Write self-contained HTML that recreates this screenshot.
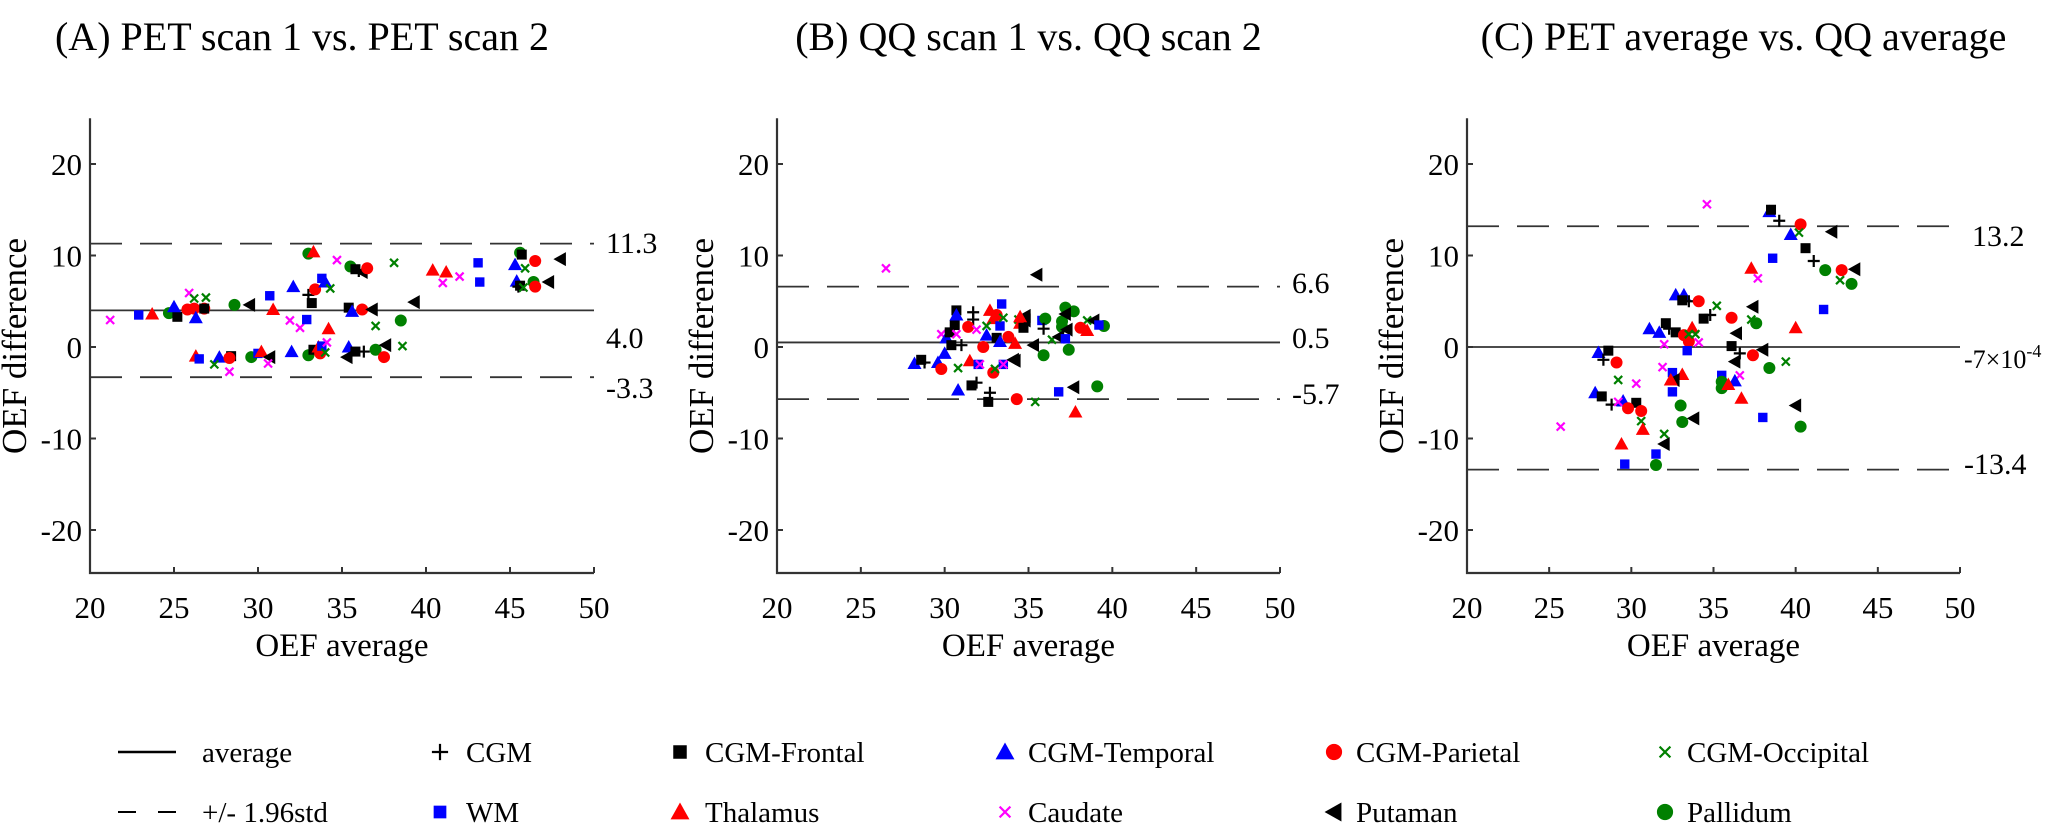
<!DOCTYPE html>
<html><head><meta charset="utf-8">
<style>
html,body{margin:0;padding:0;background:#fff;}
svg{display:block;}
svg text{font-family:"Liberation Serif","DejaVu Serif",serif;}
</style></head>
<body>
<svg id="fig" width="2048" height="833" viewBox="0 0 2048 833" xmlns="http://www.w3.org/2000/svg" font-family="Liberation Serif, serif">
<g id="panels"></g>
<g id="legend"></g>
</svg>
<script>
// ---- data (series code, OEF average, OEF difference) ----
// codes: p=CGM f=CGM-Frontal t=CGM-Temporal r=CGM-Parietal o=CGM-Occipital w=WM h=Thalamus c=Caudate u=Putaman g=Pallidum
const panelAPoints = [
['c',21.2,2.95],['w',22.9,3.5],['h',23.7,3.6],['g',24.7,3.7],['f',25.2,3.3],['t',25.0,4.4],
['r',25.8,4.1],['r',26.2,4.2],['r',26.8,4.2],['t',26.3,3.2],['f',26.8,4.2],['c',25.9,5.9],
['o',26.2,5.3],['o',26.9,5.4],['g',28.6,4.6],['u',29.5,4.6],['w',30.7,5.6],['h',30.9,4.1],
['t',32.1,6.6],['p',33.0,5.7],['f',33.2,4.8],['c',31.9,2.9],['c',32.5,2.1],['w',32.9,3.0],
['g',33.0,10.2],['h',33.3,10.4],['r',33.4,6.3],['w',33.8,7.5],['t',34.0,7.1],['o',34.3,6.4],
['c',34.7,9.5],['h',34.2,2.0],['g',35.5,8.8],['f',35.8,8.5],['p',36.0,8.3],['u',36.2,8.2],['r',36.5,8.6],
['f',35.4,4.3],['t',35.6,3.9],['r',36.2,4.1],['u',36.8,4.1],['o',37.0,2.3],['g',38.5,2.9],
['u',39.3,4.9],['o',38.1,9.2],['h',40.4,8.4],['h',41.2,8.2],['c',41.0,7.0],['c',42.0,7.7],
['w',43.1,9.2],['w',43.2,7.1],
['h',26.3,-1.0],['w',26.5,-1.3],['t',27.7,-1.1],['o',27.4,-1.9],['f',28.4,-1.0],['r',28.3,-1.2],
['c',28.3,-2.7],['g',29.6,-1.1],['w',30.0,-0.7],['h',30.2,-0.5],['u',30.7,-1.1],['c',30.6,-1.8],
['t',32.0,-0.5],['g',33.0,-0.9],['f',33.3,-0.3],['h',33.6,0.0],['r',33.7,-0.7],['w',33.8,0.1],
['c',34.1,0.5],['o',34.0,-0.6],['t',35.4,0.0],['u',35.3,-1.1],['f',35.8,-0.5],['p',36.3,-0.5],
['g',37.0,-0.3],['u',37.6,0.2],['r',37.5,-1.1],['o',38.6,0.1],
['g',45.6,10.3],['f',45.7,10.1],['t',45.3,9.0],['r',46.5,9.4],['u',48.0,9.6],['o',45.9,8.6],
['t',45.4,7.2],['p',45.5,6.6],['f',45.6,6.7],['o',45.8,6.5],['g',46.4,7.1],['r',46.5,6.6],['u',47.3,7.1]
];
const panelBPoints = [
['c',26.5,8.6],['t',28.2,-1.8],['f',28.6,-1.4],['p',28.8,-1.7],['t',29.6,-1.7],['r',29.8,-2.4],
['t',30.0,-0.7],['c',29.8,1.4],['t',30.1,1.0],['f',30.4,0.2],['p',31.0,0.2],['f',30.3,1.6],
['f',30.6,2.4],['f',30.7,4.0],['t',30.7,3.5],['c',30.7,1.4],['p',31.7,3.8],['p',31.7,3.0],
['r',31.4,2.2],['o',30.8,-2.3],['r',32.3,0.0],['c',31.9,1.9],['t',30.8,-4.7],['f',31.6,-4.2],
['p',31.9,-3.9],['p',32.7,-5.0],['f',32.6,-6.0],['h',31.5,-1.5],['w',32.0,-1.9],['c',32.1,-1.9],
['r',32.9,-2.8],['o',33.0,-2.4],['w',33.5,-1.9],['c',33.5,-1.9],['h',32.7,4.0],['h',32.9,3.1],
['r',33.1,3.5],['t',32.5,1.3],['f',33.1,1.0],['w',33.3,2.3],['w',33.4,4.7],['o',33.5,3.2],
['o',32.5,2.3],['t',33.3,0.6],['r',33.8,1.1],['h',34.2,0.4],['u',34.1,-1.4],['o',34.4,3.0],
['u',34.8,2.9],['h',34.5,2.6],['f',34.7,2.1],['r',34.3,-5.7],['u',35.5,7.9],['w',35.8,2.9],
['g',36.0,3.1],['p',35.9,2.0],['g',37.2,4.3],['g',37.7,3.9],['g',37.0,2.2],['g',37.0,2.8],
['u',37.2,3.6],['u',37.3,1.9],['o',36.4,0.8],['u',36.8,1.1],['w',37.2,0.9],['u',35.3,0.2],
['g',35.9,-0.9],['g',37.4,-0.3],['u',34.2,-1.5],['o',38.5,2.9],['u',38.9,2.9],['r',38.1,2.1],
['h',38.5,1.8],['g',39.5,2.3],['w',39.2,2.4],['w',36.8,-4.9],['u',37.7,-4.4],['g',39.1,-4.3],
['o',35.4,-6.0],['h',37.8,-7.1],['u',34.8,3.4],['h',34.5,3.3]
];
const panelCPoints = [
['c',34.6,15.6],['t',38.4,14.8],['f',38.5,15.0],['p',39.0,13.8],['r',40.3,13.4],['o',40.2,12.5],
['t',39.7,12.3],['u',42.2,12.6],['f',40.6,10.8],['p',41.1,9.4],['g',41.8,8.4],['r',42.8,8.4],
['u',43.6,8.5],['o',42.7,7.3],['g',43.4,6.9],['w',38.6,9.7],['h',37.3,8.6],['c',37.7,7.5],
['w',41.7,4.1],['h',40.0,2.1],['u',37.4,4.4],['r',36.1,3.2],['o',37.3,3.0],['g',37.6,2.6],
['t',32.7,5.7],['t',33.2,5.7],['f',33.1,5.1],['p',33.5,5.0],['r',34.1,5.0],['o',35.2,4.5],
['f',34.4,3.1],['p',34.8,3.5],['t',31.1,2.0],['t',31.7,1.6],['f',32.1,2.6],['p',32.3,2.0],
['f',32.7,1.6],['h',33.7,2.1],['r',33.2,1.3],['r',33.5,0.6],['o',33.5,1.4],['o',33.9,1.4],
['c',34.1,0.5],['c',32.0,0.3],['w',33.4,-0.4],['u',36.4,1.5],['f',36.1,0.1],['p',36.6,-0.7],
['r',37.4,-0.9],['u',38.0,-0.3],['u',36.3,-1.6],['o',39.4,-1.6],['g',38.4,-2.3],['t',28.0,-0.6],
['f',28.6,-0.4],['p',28.3,-1.4],['r',29.1,-1.7],['c',31.9,-2.2],['w',32.5,-2.8],['h',33.1,-3.0],
['u',32.6,-3.6],['h',32.4,-3.6],['w',32.5,-4.9],['o',29.2,-3.6],['c',30.3,-4.0],['w',35.5,-3.1],
['c',36.6,-3.1],['t',36.3,-3.7],['g',35.5,-3.8],['g',35.5,-4.5],['h',35.9,-4.1],['h',36.7,-5.6],
['t',27.8,-5.0],['f',28.2,-5.4],['p',28.8,-6.3],['t',29.5,-5.9],['c',29.2,-6.0],['f',30.3,-6.1],
['r',29.8,-6.7],['r',30.6,-7.0],['o',30.6,-8.1],['h',30.7,-9.0],['h',29.4,-10.6],['w',29.6,-12.8],
['g',31.5,-12.9],['w',31.5,-11.7],['u',32.0,-10.6],['o',32.0,-9.5],['g',33.0,-6.4],['g',33.1,-8.2],
['u',33.8,-7.8],['w',38.0,-7.7],['u',40.0,-6.4],['g',40.3,-8.7],['c',25.7,-8.7]
];
const panelTitles = ['(A) PET scan 1 vs. PET scan 2','(B) QQ scan 1 vs. QQ scan 2','(C) PET average vs. QQ average'];
const meanValues = [4.0, 0.5, 0.0007];
const upperValues = [11.3, 6.6, 13.2];
const lowerValues = [-3.3, -5.7, -13.4];
const meanLabels = ['4.0','0.5','-7×10'];
const upperLabels = ['11.3','6.6','13.2'];
const lowerLabels = ['-3.3','-5.7','-13.4'];
const xTicks = [20,25,30,35,40,45,50];
const yTicks = [-20,-10,0,10,20];
const legendNames = ['CGM','WM','CGM-Frontal','Thalamus','CGM-Temporal','Caudate','CGM-Parietal','Putaman','CGM-Occipital','Pallidum'];
const legendCodes = ['p','w','f','h','t','c','r','u','o','g'];

const NS='http://www.w3.org/2000/svg';
const FONT='"Liberation Serif","DejaVu Serif",serif';
function mk(tag,attrs,parent){const e=document.createElementNS(NS,tag);for(const k in attrs)e.setAttribute(k,attrs[k]);if(tag==='text'){e.setAttribute('font-family',FONT);e.style.fontFamily=FONT;}if(parent)parent.appendChild(e);return e;}

const layouts=[{x0:90,x1:594},{x0:777,x1:1280},{x0:1467,x1:1960}];
const yZero=347, yPer=9.15, yMax=25, yMin=-24.7;

function marker(code,cx,cy,parent,scale){
  scale=scale||1;let e;
  const s=scale;
  if(code==='p'){e=mk('path',{d:`M${cx-6*s},${cy}H${cx+6*s}M${cx},${cy-6*s}V${cy+6*s}`,stroke:'#000','stroke-width':2.2,fill:'none'},parent);}
  else if(code==='f'){e=mk('rect',{x:cx-5*s,y:cy-5*s,width:10*s,height:10*s,fill:'#000'},parent);}
  else if(code==='w'){e=mk('rect',{x:cx-4.7*s,y:cy-4.7*s,width:9.4*s,height:9.4*s,fill:'#0000ff'},parent);}
  else if(code==='t'||code==='h'){e=mk('path',{d:`M${cx},${cy-7*s}L${cx+7*s},${cy+5.5*s}L${cx-7*s},${cy+5.5*s}Z`,fill:code==='t'?'#0000ff':'#ff0000'},parent);}
  else if(code==='r'||code==='g'){e=mk('circle',{cx:cx,cy:cy,r:6*s,fill:code==='r'?'#ff0000':'#008000'},parent);}
  else if(code==='o'||code==='c'){e=mk('path',{d:`M${cx-4*s},${cy-4*s}L${cx+4*s},${cy+4*s}M${cx+4*s},${cy-4*s}L${cx-4*s},${cy+4*s}`,stroke:code==='o'?'#008000':'#ff00ff','stroke-width':2.2,fill:'none'},parent);}
  else if(code==='u'){e=mk('path',{d:`M${cx-7*s},${cy}L${cx+5.5*s},${cy-7*s}L${cx+5.5*s},${cy+7*s}Z`,fill:'#000'},parent);}
  return e;
}

const panelsG=document.getElementById('panels');
const allPoints=[panelAPoints,panelBPoints,panelCPoints];
const letters=['a','b','c'];
layouts.forEach((L,i)=>{
  const g=mk('g',{},panelsG);
  
  
  const xs=v=>L.x0+(v-20)*(L.x1-L.x0)/30;
  const ys=v=>yZero-v*yPer;
  const t=mk('text',{x:(L.x0+L.x1)/2+(i===0?-40:0)+(i===2?30:0),y:50,'font-size':40,'text-anchor':'middle',fill:'#000'},g);
  t.textContent=panelTitles[i];
  
  
  const ax=mk('path',{d:`M${L.x0},${ys(yMax)}V${ys(yMin)}H${L.x1}`,stroke:'#333','stroke-width':2.2,fill:'none'},g);
  
  
  yTicks.forEach(v=>{
    mk('line',{x1:L.x0,x2:L.x0+6,y1:ys(v),y2:ys(v),stroke:'#333','stroke-width':2},g);
    const tl=mk('text',{x:L.x0-8,y:ys(v)+11,'font-size':31,'text-anchor':'end'},g);
    tl.textContent=String(v);
    
    
  });
  xTicks.forEach(v=>{
    mk('line',{x1:xs(v),x2:xs(v),y1:ys(yMin),y2:ys(yMin)-6,stroke:'#333','stroke-width':2},g);
    const tl=mk('text',{x:xs(v),y:618,'font-size':31,'text-anchor':'middle'},g);
    tl.textContent=String(v);
    
    
  });
  const xl=mk('text',{x:(L.x0+L.x1)/2,y:656,'font-size':33,'text-anchor':'middle'},g);
  xl.textContent='OEF average';
  
  
  const yx=L.x0-64;
  const yl=mk('text',{x:yx,y:346,'font-size':35,'text-anchor':'middle',transform:`rotate(-90 ${yx} 346)`},g);
  yl.textContent='OEF difference';
  
  
  const ml=mk('line',{x1:L.x0,x2:L.x1,y1:ys(meanValues[i]),y2:ys(meanValues[i]),stroke:'#333','stroke-width':1.8},g);
  
  
  [upperValues[i],lowerValues[i]].forEach((v,k)=>{
    const dl=mk('line',{x1:L.x0,x2:L.x1,y1:ys(v),y2:ys(v),stroke:'#333','stroke-width':1.8,'stroke-dasharray':'32 18'},g);
    
    
  });
  const lx=L.x1+12;
  const labs=[[upperLabels[i],ys(upperValues[i])-2],[meanLabels[i],ys(meanValues[i])-2],[lowerLabels[i],ys(lowerValues[i])+28]];
  if(i===0){labs[0][1]=253;labs[1][1]=348;labs[2][1]=398;}
  if(i===1){labs[0][1]=293;labs[1][1]=348;labs[2][1]=404;}
  if(i===2){labs[0][1]=246;labs[1][1]=368;labs[2][1]=474;}
  labs.forEach((lb,k)=>{
    const small=(i===2&&k===1);
    const tx=mk('text',{x:(i===2&&k>0)?lx-8:lx,y:lb[1],'font-size':small?26:30},g);
    tx.textContent=lb[0];
    if(small){const sp=mk('tspan',{dy:-11,'font-size':18},tx);sp.textContent='-4';}
    
    
  });
  allPoints[i].forEach(p=>{
    const m=marker(p[0],xs(p[1]),ys(p[2]),g);
    
    
  });
});

const lg=document.getElementById('legend');
const r1=752,r2=812;
const l1=mk('line',{x1:118,x2:176,y1:r1,y2:r1,stroke:'#000','stroke-width':2.5},lg);


const l2=mk('path',{d:`M118,${r2}H136M158,${r2}H176`,stroke:'#000','stroke-width':2},lg);


[['average',r1],['+/- 1.96std',r2]].forEach(a=>{
  const t=mk('text',{x:202,y:a[1]+10,'font-size':29},lg);t.textContent=a[0];
  
  
});
const colMarkerX=[440,680,1005,1334,1665];
const colTextX=[466,705,1028,1356,1687];
legendNames.forEach((n,k)=>{
  const col=Math.floor(k/2),row=k%2;const y=row?r2:r1;
  const m=marker(legendCodes[k],colMarkerX[col],y,lg,1.35);
  
  
  const t=mk('text',{x:colTextX[col],y:y+10,'font-size':29},lg);t.textContent=n;
  
  
});
</script>
</body></html>
